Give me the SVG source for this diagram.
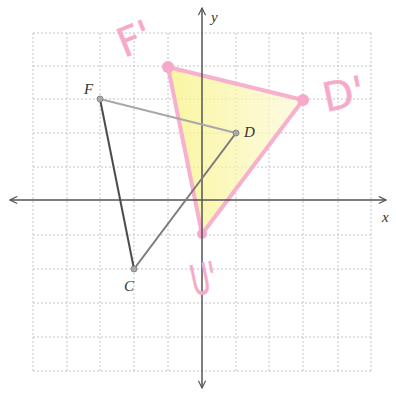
<svg xmlns="http://www.w3.org/2000/svg" width="396" height="394" viewBox="0 0 396 394">
<defs>
<marker id="ah" viewBox="0 0 10 10" refX="9" refY="5" markerWidth="9" markerHeight="9" orient="auto-start-reverse" markerUnits="userSpaceOnUse">
<path d="M1,1 L9,5 L1,9" fill="none" stroke="#555" stroke-width="1.3"/>
</marker>
<linearGradient id="yf" x1="0" y1="0" x2="1" y2="0">
<stop offset="0" stop-color="#f8f27a"/>
<stop offset="1" stop-color="#fcf9d8"/>
</linearGradient>
</defs>
<style>
.grid line{stroke:#c4c4c4;stroke-width:1;stroke-dasharray:2 2}
.axis{stroke:#555;stroke-width:1.5;fill:none}
.lbl{font-family:"Liberation Serif",serif;font-style:italic;font-size:15px;fill:#333}
.pk{font-family:"DejaVu Sans",sans-serif;font-size:40px;fill:#f7a9c9;stroke:#f7a9c9;stroke-width:0.5}
.pt{fill:#aaa;stroke:#888;stroke-width:1}
.ppt{fill:#f7a9c9}
</style>
<rect width="396" height="394" fill="#fff"/>
<g class="grid">
<line x1="33" y1="33" x2="33" y2="371"/><line x1="67" y1="33" x2="67" y2="371"/><line x1="100" y1="33" x2="100" y2="371"/><line x1="134" y1="33" x2="134" y2="371"/><line x1="168" y1="33" x2="168" y2="371"/>
<line x1="236" y1="33" x2="236" y2="371"/><line x1="269" y1="33" x2="269" y2="371"/><line x1="303" y1="33" x2="303" y2="371"/><line x1="338" y1="33" x2="338" y2="371"/><line x1="371" y1="33" x2="371" y2="371"/>
<line x1="33" y1="33" x2="371" y2="33"/><line x1="33" y1="66" x2="371" y2="66"/><line x1="33" y1="99" x2="371" y2="99"/><line x1="33" y1="133" x2="371" y2="133"/><line x1="33" y1="167" x2="371" y2="167"/>
<line x1="33" y1="235" x2="371" y2="235"/><line x1="33" y1="269" x2="371" y2="269"/><line x1="33" y1="303" x2="371" y2="303"/><line x1="33" y1="337" x2="371" y2="337"/><line x1="33" y1="371" x2="371" y2="371"/>
</g>
<g id="image-triangle">
<polygon points="168,67 303,100 202,234" fill="url(#yf)" fill-opacity="0.7" stroke="#f7b0cd" stroke-width="4" stroke-linejoin="round"/>
<circle class="ppt" cx="168" cy="67" r="6"/>
<circle class="ppt" cx="303" cy="100" r="6"/>
<circle class="ppt" cx="202" cy="234" r="5"/>
</g>
<g id="axes">
<line class="axis" x1="10" y1="200" x2="386" y2="200" marker-start="url(#ah)" marker-end="url(#ah)"/>
<line class="axis" x1="202" y1="8" x2="202" y2="388" marker-start="url(#ah)" marker-end="url(#ah)"/>
<text class="lbl" x="211" y="22">y</text>
<text class="lbl" x="382" y="222">x</text>
</g>
<g id="connectors">
<line x1="100" y1="99" x2="236" y2="133" stroke="#a8a8a8" stroke-width="2"/>
<line x1="236" y1="133" x2="134" y2="269" stroke="#7a7a7a" stroke-width="2"/>
<line x1="100" y1="99" x2="134" y2="269" stroke="#4a4a4a" stroke-width="2"/>
</g>
<g id="node-F"><circle class="pt" cx="100" cy="99" r="3"/><text class="lbl" x="84" y="94">F</text></g>
<g id="node-D"><circle class="pt" cx="236" cy="133" r="3"/><text class="lbl" x="244" y="137">D</text></g>
<g id="node-C"><circle class="pt" cx="134" cy="269" r="3"/><text class="lbl" x="124" y="291">C</text></g>
<g id="label-F1"><text class="pk" transform="translate(124,58) rotate(-22)">F'</text></g>
<g id="label-D1"><text class="pk" transform="translate(326,112) rotate(-12)">D'</text></g>
<g id="label-C1"><text class="pk" transform="translate(194,296) rotate(-12) scale(0.65,1.05)">U'</text></g>
</svg>
